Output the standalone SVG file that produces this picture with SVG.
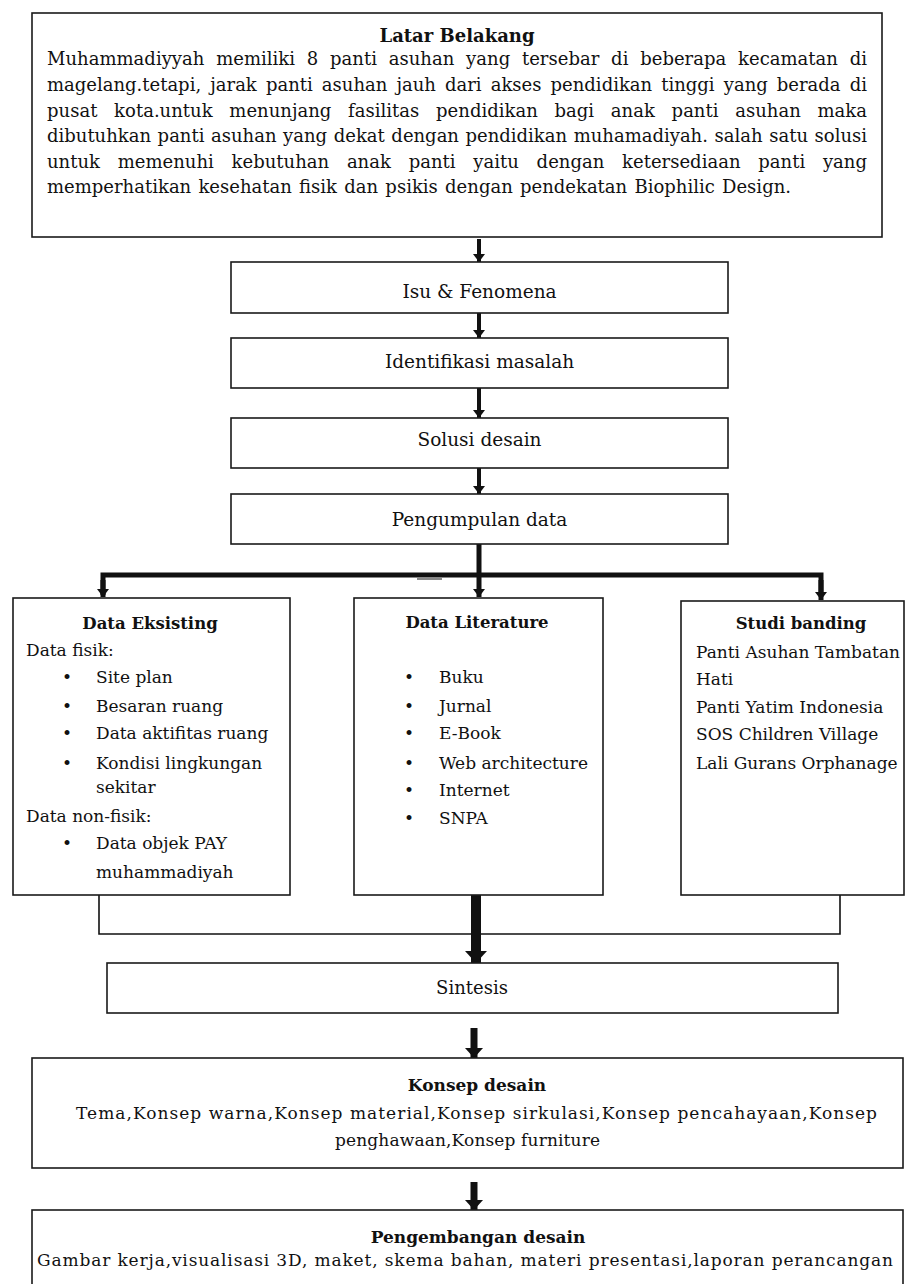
<svg xmlns="http://www.w3.org/2000/svg" width="913" height="1284" viewBox="0 0 913 1284">
<defs>
<style>
.box{fill:#fff;stroke:#1a1a1a;stroke-width:1.6}
.t{font-family:"DejaVu Serif","Liberation Serif",serif;fill:#111}
.body{font-size:18px}
.flow{font-size:18.5px;text-anchor:middle}
.reg{font-size:17px}
.ttl{font-size:16.5px;font-weight:bold;text-anchor:middle}
.big{font-size:18px;font-weight:bold;text-anchor:middle}
.mid{text-anchor:middle}
.c{fill:none;stroke:#111}
</style>
<marker id="ah" markerUnits="userSpaceOnUse" viewBox="0 0 8 12" refX="8" refY="6" markerWidth="8" markerHeight="12" orient="auto"><path d="M0,0 L8,6 L0,12 z" fill="#111"/></marker>
<marker id="ahM" markerUnits="userSpaceOnUse" viewBox="0 0 10 18" refX="10" refY="9" markerWidth="10" markerHeight="18" orient="auto"><path d="M0,0 L10,9 L0,18 z" fill="#111"/></marker>
<marker id="ahB" markerUnits="userSpaceOnUse" viewBox="0 0 12 22" refX="12" refY="11" markerWidth="12" markerHeight="22" orient="auto"><path d="M0,0 L12,11 L0,22 z" fill="#111"/></marker>
</defs>
<rect width="913" height="1284" fill="#fff"/>

<g id="connectors">
<line class="c" x1="479" y1="239" x2="479" y2="262" stroke-width="4" marker-end="url(#ah)"/>
<line class="c" x1="479" y1="313" x2="479" y2="338" stroke-width="4" marker-end="url(#ah)"/>
<line class="c" x1="479" y1="388" x2="479" y2="418" stroke-width="4" marker-end="url(#ah)"/>
<line class="c" x1="479" y1="468" x2="479" y2="494" stroke-width="4" marker-end="url(#ah)"/>
<line class="c" x1="479" y1="544" x2="479" y2="577" stroke-width="5"/>
<polyline class="c" points="103,595 103,575 821,575 821,595" stroke-width="5" stroke-linejoin="miter"/>
<line class="c" x1="103" y1="580" x2="103" y2="597" stroke-width="5" marker-end="url(#ah)"/>
<line class="c" x1="479" y1="577" x2="479" y2="597" stroke-width="5" marker-end="url(#ah)"/>
<line class="c" x1="821" y1="580" x2="821" y2="600" stroke-width="5" marker-end="url(#ah)"/>
<line x1="417" y1="579" x2="442" y2="579" stroke="#888" stroke-width="2"/>
<polyline class="c" points="99,895 99,934 840,934 840,895" stroke-width="1.6"/>
<line class="c" x1="476" y1="892" x2="476" y2="963" stroke-width="10" marker-end="url(#ahB)"/>
<line class="c" x1="474" y1="1028" x2="474" y2="1058" stroke-width="7" marker-end="url(#ahM)"/>
<line class="c" x1="474" y1="1182" x2="474" y2="1210" stroke-width="7" marker-end="url(#ahM)"/>
</g>

<g id="latar-belakang">
<rect class="box" x="32" y="13" width="850" height="224"/>
<text class="t big" x="457" y="42">Latar Belakang</text>
<text class="t body" x="47" y="65" word-spacing="6" textLength="820">Muhammadiyyah memiliki 8 panti asuhan yang tersebar di beberapa kecamatan di</text>
<text class="t body" x="47" y="91" word-spacing="3.4" textLength="820">magelang.tetapi, jarak panti asuhan jauh dari akses pendidikan tinggi yang berada di</text>
<text class="t body" x="47" y="116.5" word-spacing="11" textLength="820">pusat kota.untuk menunjang fasilitas pendidikan bagi anak panti asuhan maka</text>
<text class="t body" x="47" y="142" word-spacing="0.9" textLength="820">dibutuhkan panti asuhan yang dekat dengan pendidikan muhamadiyah. salah satu solusi</text>
<text class="t body" x="47" y="168" word-spacing="12" textLength="820">untuk memenuhi kebutuhan anak panti yaitu dengan ketersediaan panti yang</text>
<text class="t body" x="47" y="193" word-spacing="1.5" textLength="744">memperhatikan kesehatan fisik dan psikis dengan pendekatan Biophilic Design.</text>
</g>

<g id="isu-fenomena">
<rect class="box" x="231" y="262" width="497" height="51"/>
<text class="t flow" x="479.5" y="298">Isu &amp; Fenomena</text>
</g>

<g id="identifikasi-masalah">
<rect class="box" x="231" y="338" width="497" height="50"/>
<text class="t flow" x="479.5" y="368">Identifikasi masalah</text>
</g>

<g id="solusi-desain">
<rect class="box" x="231" y="418" width="497" height="50"/>
<text class="t flow" x="479.5" y="446">Solusi desain</text>
</g>

<g id="pengumpulan-data">
<rect class="box" x="231" y="494" width="497" height="50"/>
<text class="t flow" x="479.5" y="526">Pengumpulan data</text>
</g>

<g id="data-eksisting">
<rect class="box" x="13" y="598" width="277" height="297"/>
<text class="t ttl" x="150" y="629">Data Eksisting</text>
<text class="t reg" x="26" y="656">Data fisik:</text>
<text class="t reg" x="62" y="683">•</text><text class="t reg" x="96" y="683">Site plan</text>
<text class="t reg" x="62" y="712">•</text><text class="t reg" x="96" y="712">Besaran ruang</text>
<text class="t reg" x="62" y="739">•</text><text class="t reg" x="96" y="739">Data aktifitas ruang</text>
<text class="t reg" x="62" y="769">•</text><text class="t reg" x="96" y="769">Kondisi lingkungan</text>
<text class="t reg" x="96" y="793">sekitar</text>
<text class="t reg" x="26" y="822">Data non-fisik:</text>
<text class="t reg" x="62" y="849">•</text><text class="t reg" x="96" y="849">Data objek PAY</text>
<text class="t reg" x="96" y="878">muhammadiyah</text>
</g>

<g id="data-literature">
<rect class="box" x="354" y="598" width="249" height="297"/>
<text class="t ttl" x="477" y="628">Data Literature</text>
<text class="t reg" x="404" y="683">•</text><text class="t reg" x="439" y="683">Buku</text>
<text class="t reg" x="404" y="712">•</text><text class="t reg" x="439" y="712">Jurnal</text>
<text class="t reg" x="404" y="739">•</text><text class="t reg" x="439" y="739">E-Book</text>
<text class="t reg" x="404" y="769">•</text><text class="t reg" x="439" y="769">Web architecture</text>
<text class="t reg" x="404" y="796">•</text><text class="t reg" x="439" y="796">Internet</text>
<text class="t reg" x="404" y="824">•</text><text class="t reg" x="439" y="824">SNPA</text>
</g>

<g id="studi-banding">
<rect class="box" x="681" y="601" width="223" height="294"/>
<text class="t ttl" x="801" y="629">Studi banding</text>
<text class="t reg" x="696" y="658">Panti Asuhan Tambatan</text>
<text class="t reg" x="696" y="685">Hati</text>
<text class="t reg" x="696" y="713">Panti Yatim Indonesia</text>
<text class="t reg" x="696" y="740">SOS Children Village</text>
<text class="t reg" x="696" y="769">Lali Gurans Orphanage</text>
</g>

<g id="sintesis">
<rect class="box" x="107" y="963" width="731" height="50"/>
<text class="t flow" x="472" y="994" style="font-size:18px">Sintesis</text>
</g>

<g id="konsep-desain">
<rect class="box" x="32" y="1058" width="871" height="110"/>
<text class="t big" x="477" y="1091" style="font-size:17px">Konsep desain</text>
<text class="t reg mid" x="476.5" y="1119" textLength="801">Tema,Konsep warna,Konsep material,Konsep sirkulasi,Konsep pencahayaan,Konsep</text>
<text class="t reg mid" x="467.5" y="1146" textLength="265">penghawaan,Konsep furniture</text>
</g>

<g id="pengembangan-desain">
<rect class="box" x="32" y="1210" width="871" height="90"/>
<text class="t big" x="478" y="1243" style="font-size:17px">Pengembangan desain</text>
<text class="t reg" x="37" y="1266" textLength="856">Gambar kerja,visualisasi 3D, maket, skema bahan, materi presentasi,laporan perancangan</text>
</g>
</svg>
